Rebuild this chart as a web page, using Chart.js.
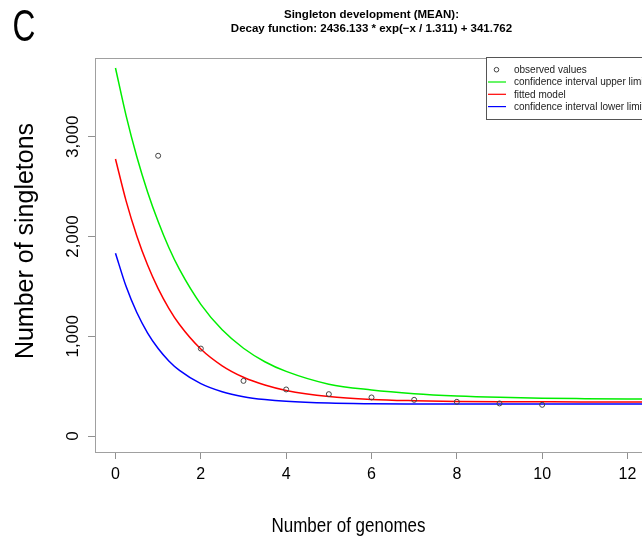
<!DOCTYPE html>
<html>
<head>
<meta charset="utf-8">
<script src="https://cdn.jsdelivr.net/npm/chart.js@4/dist/chart.umd.min.js"></script>
<style>
  html, body { margin: 0; padding: 0; background: #fff; overflow: hidden; }
  #wrap { width: 660px; height: 539px; }
</style>
</head>
<body>
<div id="wrap"><canvas id="c" width="660" height="539"></canvas></div>
<script>
// observed values (number of genomes -> singletons)
const genomes = [1, 2, 3, 4, 5, 6, 7, 8, 9, 10];
const observed = [2810, 877, 553, 467, 420, 387, 363, 343, 327, 313];

// curves at these x positions
const curveX = [0, 0.25, 0.5, 0.75, 1, 1.25, 1.5, 2, 2.5, 3, 3.5, 4, 5, 6, 7, 8, 9, 10, 11, 12, 12.5];
const upperLimit = [3690, 3210, 2800, 2450, 2150, 1890, 1670, 1320, 1065, 880, 745, 648, 520, 462, 425, 402, 388, 380, 375, 371, 370];
const fitted = [2778, 2355, 2006, 1717, 1478, 1281, 1118, 872, 704, 589, 511, 457, 396, 367, 354, 347, 344, 343, 342, 342, 342];
const lowerLimit = [1833, 1498, 1238, 1035, 877, 753, 658, 525, 444, 395, 366, 348, 330, 324, 322, 321, 320, 320, 320, 320, 320];

const xTicks = [0, 2, 4, 6, 8, 10, 12];
const yTicks = [0, 1000, 2000, 3000];

const titleLines = ['Singleton development (MEAN):', 'Decay function: 2436.133 * exp(\u2212x / 1.311) + 341.762'];

function pts(xs, ys) {
  return xs.map((x, i) => ({ x: x, y: ys[i] }));
}

function lineSet(label, values, color) {
  return {
    type: 'line',
    label: label,
    data: pts(curveX, values),
    borderColor: color,
    backgroundColor: color,
    borderWidth: 1.5,
    pointRadius: 0,
    cubicInterpolationMode: 'monotone',
    fill: false
  };
}

// narrow text (no condensed font installed, so squeeze it)
function narrowText(ctx, text, x, y, sx) {
  ctx.save();
  ctx.translate(x, y);
  ctx.scale(sx, 1);
  ctx.fillText(text, 0, 0);
  ctx.restore();
}

// box, titles, panel letter and legend
const decor = {
  id: 'decor',
  afterDraw(chart) {
    const ctx = chart.ctx;
    const a = chart.chartArea;
    ctx.save();
    ctx.strokeStyle = '#a0a0a0';
    ctx.lineWidth = 1;
    ctx.strokeRect(Math.round(a.left) + 0.5, Math.round(a.top) + 0.5, Math.round(a.right - a.left), Math.round(a.bottom - a.top));

    ctx.fillStyle = '#000';
    ctx.textAlign = 'center';
    ctx.textBaseline = 'alphabetic';
    ctx.font = 'bold 11.5px "Liberation Sans", Arial, sans-serif';
    ctx.fillText(titleLines[0], 371.5, 18);
    ctx.fillText(titleLines[1], 371.5, 32);

    ctx.font = '44px "Liberation Sans", Arial, sans-serif';
    narrowText(ctx, 'C', 24, 41, 0.72);

    ctx.font = '21px "Liberation Sans", Arial, sans-serif';
    narrowText(ctx, 'Number of genomes', 348.5, 532, 0.81);

    ctx.save();
    ctx.translate(33, 241);
    ctx.rotate(-Math.PI / 2);
    ctx.font = '25px "Liberation Sans", Arial, sans-serif';
    ctx.fillText('Number of singletons', 0, 0);
    ctx.restore();

    // legend
    ctx.fillStyle = '#fff';
    ctx.fillRect(486, 57, 200, 62);
    ctx.strokeStyle = '#555';
    ctx.strokeRect(486.5, 57.5, 200, 62);
    ctx.font = '10px "Liberation Sans", Arial, sans-serif';
    ctx.textAlign = 'left';
    ctx.textBaseline = 'middle';
    chart.data.datasets.forEach((ds, i) => {
      const y = 69.7 + i * 12.3;
      if (ds.showLine === false) {
        ctx.strokeStyle = ds.pointBorderColor;
        ctx.lineWidth = 1;
        ctx.beginPath();
        ctx.arc(496.5, y, 2.3, 0, Math.PI * 2);
        ctx.stroke();
      } else {
        ctx.strokeStyle = ds.borderColor;
        ctx.lineWidth = 1.2;
        ctx.beginPath();
        ctx.moveTo(488, y);
        ctx.lineTo(506, y);
        ctx.stroke();
      }
      ctx.fillStyle = '#222';
      ctx.fillText(ds.label, 514, y + 0.5);
    });
    ctx.restore();
  }
};

new Chart(document.getElementById('c'), {
  type: 'scatter',
  data: {
    datasets: [
      {
        type: 'scatter',
        label: 'observed values',
        data: pts(genomes, observed),
        showLine: false,
        pointRadius: 2.5,
        pointBorderWidth: 1,
        pointBorderColor: '#444',
        pointBackgroundColor: 'rgba(0,0,0,0)'
      },
      lineSet('confidence interval upper limit', upperLimit, '#00ee00'),
      lineSet('fitted model', fitted, '#ff0000'),
      lineSet('confidence interval lower limit', lowerLimit, '#0000ff')
    ]
  },
  options: {
    responsive: false,
    animation: false,
    layout: { padding: { top: 58, right: 12, left: 0, bottom: 0 } },
    plugins: { legend: { display: false }, tooltip: { enabled: false }, title: { display: false } },
    scales: {
      x: {
        type: 'linear',
        min: -0.48,
        max: 12.48,
        afterFit(s) { s.height = 87; },
        afterBuildTicks(s) { s.ticks = xTicks.map(v => ({ value: v })); },
        ticks: {
          color: '#000',
          padding: 6,
          font: { family: '"Liberation Sans Narrow", "Liberation Sans", sans-serif', size: 16 },
          maxRotation: 0,
          callback: v => String(v)
        },
        grid: { drawOnChartArea: false, drawTicks: true, tickLength: 7, color: '#909090' },
        border: { display: true, color: '#a0a0a0' }
      },
      y: {
        type: 'linear',
        min: -160,
        max: 3790,
        afterFit(s) { s.width = 95; },
        afterBuildTicks(s) { s.ticks = yTicks.map(v => ({ value: v })); },
        ticks: {
          color: '#000',
          padding: -7,
          crossAlign: 'center',
          minRotation: 90,
          maxRotation: 90,
          font: { family: '"Liberation Sans", Arial, sans-serif', size: 17 },
          callback: v => v.toLocaleString('en-US')
        },
        grid: { drawOnChartArea: false, drawTicks: true, tickLength: 7, color: '#909090' },
        border: { display: true, color: '#a0a0a0' }
      }
    }
  },
  plugins: [decor]
});
</script>
</body>
</html>
